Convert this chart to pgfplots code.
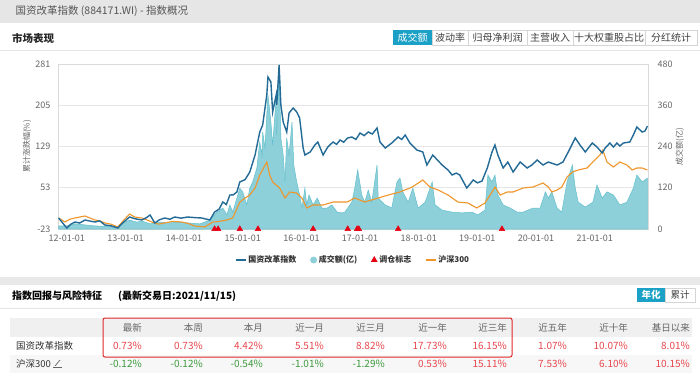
\documentclass[border=0pt]{standalone}
\usepackage{fontspec}
\setmainfont{Noto Sans CJK SC}
\usepackage{pgfplots}
\usepackage{pgfplotstable}
\pgfplotsset{compat=1.18}
\definecolor{hdrbg}{HTML}{E6E6E6}
\definecolor{gapbg}{HTML}{E9E9E9}
\definecolor{txtgray}{HTML}{555555}
\definecolor{tickgray}{HTML}{666666}
\definecolor{gridc}{HTML}{E6E6E6}
\definecolor{framec}{HTML}{DADADA}
\definecolor{tabteal}{HTML}{1BA1C6}
\definecolor{tabborder}{HTML}{D5D5D5}
\definecolor{blueline}{HTML}{236A96}
\definecolor{orangeline}{HTML}{F0952A}
\definecolor{volfill}{HTML}{8DD0DA}
\definecolor{voldraw}{HTML}{62BFCC}
\definecolor{mkred}{HTML}{E60012}
\definecolor{valred}{HTML}{E8464C}
\definecolor{valgreen}{HTML}{3E9B3E}
\definecolor{rowbg}{HTML}{F0F0F0}
\definecolor{rowbgb}{HTML}{F7F7F7}
\definecolor{boxred}{HTML}{E0282A}
\newcommand\fs[1]{\fontsize{#1}{#1}\selectfont}
\pgfplotsset{shortline/.style={legend image code/.code={\draw[##1] (0pt,0pt) -- (10pt,0pt);}}}

\pgfplotstableread{
x y
2011.86 -2.7
2012.00 -21.2
2012.07 -14.0
2012.14 -10.1
2012.22 -12.0
2012.31 -6.4
2012.40 -8.5
2012.48 -10.1
2012.56 -8.0
2012.65 -15.6
2012.75 -17.0
2012.87 -21.2
2012.95 -12.0
2013.07 -0.9
2013.16 -4.0
2013.28 -6.4
2013.36 -2.0
2013.42 2.8
2013.50 -11.9
2013.58 -6.0
2013.67 -2.7
2013.76 -5.0
2013.84 -0.9
2013.95 -3.0
2014.06 -0.9
2014.18 -2.0
2014.30 -2.7
2014.44 -6.4
2014.52 8.3
2014.60 14.0
2014.66 26.7
2014.72 22.0
2014.78 39.6
2014.84 40.0
2014.90 45.2
2014.95 63.6
2015.04 68.0
2015.12 82.0
2015.21 113.3
2015.29 155.7
2015.34 168.6
2015.41 223.9
2015.43 257.0
2015.48 247.8
2015.51 192.6
2015.57 223.9
2015.58 205.5
2015.62 279.2
2015.65 205.5
2015.69 174.1
2015.75 155.7
2015.79 190.7
2015.86 199.9
2015.92 192.6
2015.97 181.5
2016.03 126.2
2016.06 113.3
2016.15 118.9
2016.23 131.8
2016.28 137.3
2016.37 113.3
2016.45 128.1
2016.54 137.3
2016.60 133.0
2016.66 141.0
2016.72 137.0
2016.79 144.7
2016.86 146.5
2016.93 142.0
2017.00 153.9
2017.07 149.0
2017.14 155.7
2017.21 152.0
2017.29 163.1
2017.34 137.3
2017.43 126.2
2017.54 135.4
2017.65 146.5
2017.71 142.0
2017.77 150.2
2017.85 135.4
2017.97 122.5
2018.07 118.9
2018.14 94.9
2018.24 113.3
2018.32 104.0
2018.40 94.9
2018.50 85.7
2018.57 76.5
2018.64 80.0
2018.70 76.5
2018.82 52.5
2018.93 67.3
2019.00 62.0
2019.08 65.4
2019.17 89.4
2019.25 118.9
2019.30 131.8
2019.35 113.3
2019.44 89.4
2019.52 100.4
2019.61 82.0
2019.73 100.4
2019.85 89.4
2019.93 95.0
2020.02 104.1
2020.12 94.9
2020.21 100.4
2020.36 94.9
2020.46 100.4
2020.55 118.9
2020.67 144.7
2020.75 131.8
2020.84 118.9
2020.96 135.4
2021.04 128.1
2021.13 117.0
2021.18 126.2
2021.26 135.4
2021.32 128.0
2021.38 135.4
2021.43 130.0
2021.49 135.4
2021.60 137.3
2021.66 150.2
2021.72 164.9
2021.81 155.7
2021.86 157.6
2021.90 166.8
}\gzdata

\pgfplotstableread{
x y
2011.86 -2.7
2011.97 -10.1
2012.05 -5.0
2012.14 -2.7
2012.22 -1.0
2012.31 1.0
2012.40 -3.0
2012.48 -6.4
2012.56 -8.0
2012.65 -11.9
2012.75 -14.0
2012.87 -19.3
2012.96 -8.0
2013.07 4.6
2013.16 -1.0
2013.28 -2.7
2013.36 -6.0
2013.45 -10.1
2013.56 -14.0
2013.67 -11.9
2013.80 -9.0
2013.96 -10.1
2014.08 -13.0
2014.18 -17.5
2014.35 -19.3
2014.49 -10.1
2014.60 -9.0
2014.73 -6.4
2014.83 -2.7
2014.95 26.7
2015.04 34.1
2015.12 39.6
2015.21 52.5
2015.29 76.5
2015.41 100.4
2015.46 76.5
2015.51 63.6
2015.63 52.5
2015.72 34.1
2015.80 45.2
2015.92 43.3
2016.01 34.1
2016.09 15.7
2016.20 21.2
2016.37 21.2
2016.54 26.7
2016.78 26.7
2016.91 34.1
2017.08 26.7
2017.31 34.1
2017.48 39.6
2017.68 45.2
2017.89 54.4
2018.07 67.3
2018.19 54.4
2018.33 48.9
2018.50 39.6
2018.67 26.7
2018.84 24.9
2018.99 15.7
2019.13 24.9
2019.25 45.2
2019.30 54.4
2019.39 39.6
2019.51 45.2
2019.61 45.2
2019.78 52.5
2019.95 54.4
2020.12 61.8
2020.21 54.4
2020.27 45.2
2020.36 48.9
2020.44 54.4
2020.53 72.8
2020.62 82.0
2020.72 85.7
2020.87 89.4
2020.97 100.4
2021.09 113.3
2021.14 122.5
2021.21 100.4
2021.32 91.2
2021.43 100.4
2021.55 94.9
2021.64 85.7
2021.72 89.4
2021.81 89.4
2021.90 85.7
}\hsdata

\pgfplotstableread{
x y
2011.86 9
2012.00 9
2012.14 15
2012.31 12
2012.48 9
2012.65 8
2012.87 8
2012.99 20
2013.07 26
2013.19 20
2013.28 23
2013.42 15
2013.59 20
2013.76 18
2013.93 20
2014.10 17
2014.27 15
2014.35 20
2014.44 26
2014.56 49
2014.66 61
2014.73 41
2014.78 70
2014.83 49
2014.90 90
2014.95 119
2015.00 108
2015.07 70
2015.12 119
2015.17 137
2015.24 177
2015.29 253
2015.33 215
2015.34 282
2015.38 236
2015.41 332
2015.43 390
2015.48 311
2015.51 244
2015.57 381
2015.58 273
2015.62 474
2015.65 265
2015.69 215
2015.72 137
2015.75 265
2015.79 215
2015.84 311
2015.87 186
2015.92 137
2015.97 99
2016.01 61
2016.06 119
2016.09 70
2016.13 99
2016.20 70
2016.27 90
2016.35 61
2016.44 61
2016.52 70
2016.61 49
2016.69 47
2016.74 49
2016.86 78
2016.91 119
2016.96 172
2017.03 99
2017.08 78
2017.14 113
2017.20 78
2017.29 186
2017.31 90
2017.43 70
2017.54 61
2017.63 137
2017.68 148
2017.73 108
2017.82 78
2017.90 119
2017.99 61
2018.11 78
2018.23 137
2018.28 70
2018.40 55
2018.57 49
2018.74 47
2018.91 49
2019.01 41
2019.13 55
2019.18 157
2019.25 137
2019.30 157
2019.35 99
2019.44 70
2019.56 61
2019.68 49
2019.78 49
2019.95 61
2020.07 61
2020.16 108
2020.21 90
2020.27 108
2020.36 61
2020.44 49
2020.53 137
2020.62 186
2020.67 119
2020.72 78
2020.84 64
2020.97 78
2021.04 128
2021.13 90
2021.21 108
2021.32 99
2021.43 70
2021.55 78
2021.66 119
2021.72 157
2021.81 137
2021.90 148
}\voldata

\begin{document}
\begin{tikzpicture}[x=1pt,y=1pt]
\path[use as bounding box] (0,0) rectangle (700,376);
\fill[gapbg] (0,0) rectangle (700,376);
\fill[hdrbg] (0,353) rectangle (700,376);
\node[anchor=west, text=txtgray, font=\fs{10.5}] at (12,364.5) {国资改革指数 (884171.WI) - 指数概况};
\fill[white] (0,99) rectangle (700,353);
\fill[white] (0,0) rectangle (700,91);
\node[anchor=west, font=\fs{10.5}\bfseries, text=black!85, inner sep=0pt] at (12,338) {市场表现};
\draw[hdrbg] (0,326) -- (700,326);
% tabs
\fill[tabteal] (393,331) rectangle (432,346);
\node[font=\fs{10}, text=white] at (412.5,338.5) {成交额};
\foreach \a/\b/\t in {432/468/波动率, 468/527/归母净利润, 527/573/主营收入, 573/645/十大权重股占比, 645/697/分红统计}{
  \draw[tabborder] (\a,331) rectangle (\b,346);
  \node[font=\fs{10}, text=black!75] at ({(\a+\b)/2},338.5) {\t};
}

% ---------- chart ----------
\begin{axis}[
  at={(58pt,147pt)}, anchor=south west, scale only axis,
  width=590pt, height=165pt,
  xmin=2011.85, xmax=2021.91, ymin=0, ymax=480,
  xtick=\empty, ytick={0,120,240,360,480},
  yticklabel pos=right,
  ymajorgrids, grid style={gridc, line width=0.6pt},
  axis line style={framec, line width=0.6pt},
  major tick length=0pt,
  yticklabel style={font=\fs{9}, text=tickgray, xshift=6pt},
  /pgf/number format/assume math mode=true,
  every axis y label/.style={at={(axis description cs:1.054,0.5)}, rotate=90, anchor=center, font=\fs{8}, text=tickgray},
  ylabel={成交额(亿)},
]
\addplot[fill=volfill, draw=voldraw, line width=0.5pt] table[x=x,y=y]{\voldata} \closedcycle;
\end{axis}

\begin{axis}[
  at={(58pt,147pt)}, anchor=south west, scale only axis,
  width=590pt, height=165pt,
  xmin=2011.85, xmax=2021.91, ymin=-23, ymax=281,
  ytick={-23,53,129,205,281},
  xtick={2012,2013,2014,2015,2016,2017,2018,2019,2020,2021},
  xticklabels={12-01-01,13-01-01,14-01-01,15-01-01,16-01-01,17-01-01,18-01-01,19-01-01,20-01-01,21-01-01},
  axis line style={draw=none},
  major tick length=0pt,
  yticklabel style={font=\fs{9}, text=tickgray, xshift=-4pt},
  xticklabel style={font=\fs{9}, text=tickgray, yshift=-2pt},
  /pgf/number format/assume math mode=true,
  every axis y label/.style={at={(axis description cs:-0.0525,0.5)}, rotate=90, anchor=center, font=\fs{8}, text=tickgray},
  ylabel={累计涨跌幅(\%)},
  clip mode=individual,
  legend style={at={(0.5,-0.188)}, anchor=center, draw=none, fill=none,
    legend columns=4, font=\fs{8}\bfseries, text=black!80,
    /tikz/every even column/.append style={column sep=12pt}},
]
\addplot[orangeline, line width=1.1pt, forget plot] table[x=x,y=y]{\hsdata};
\addplot[blueline, line width=1.4pt, forget plot] table[x=x,y=y]{\gzdata};
\addplot[only marks, mark=triangle*, mark size=3.3pt, color=mkred, forget plot] coordinates {
(2014.52,-23) (2014.58,-23) (2014.95,-23) (2015.26,-23) (2016.20,-23)
(2016.79,-23) (2016.95,-23) (2016.98,-23) (2017.65,-23) (2019.42,-23)};
\addlegendimage{blueline, line width=1.5pt, shortline}
\addlegendentry{国资改革指数}
\addlegendimage{only marks, mark=*, mark size=3.2pt, color=volfill}
\addlegendentry{成交额(亿)}
\addlegendimage{only marks, mark=triangle*, mark size=3.5pt, color=mkred}
\addlegendentry{调仓标志}
\addlegendimage{orangeline, line width=1.2pt, shortline}
\addlegendentry{沪深300}
\end{axis}

% ---------- table ----------
\node[anchor=west, font=\fs{10}\bfseries, inner sep=0pt] at (12,80) {指数回报与风险特征};
\node[anchor=west, font=\fs{10}\bfseries, inner sep=0pt] at (118,80) {(最新交易日:2021/11/15)};
\draw[hdrbg] (0,68) -- (700,68);
\fill[tabteal] (637,74) rectangle (665,88);
\node[font=\fs{9.5}\bfseries, text=white] at (651,81) {年化};
\draw[tabborder] (665,74) rectangle (695,88);
\node[font=\fs{9.5}, text=black!75] at (680,81) {累计};
\fill[rowbg] (10,39) rectangle (692,58);
\fill[rowbgb] (10,3) rectangle (692,21);
\foreach \xr/\t in {142/最新, 203/本周, 263/本月, 324/近一月, 385/近三月, 447/近一年, 507/近三年, 567/近五年, 628/近十年, 690/基日以来}{
  \node[anchor=east, inner sep=0pt, font=\fs{9.5}, text=tickgray] at (\xr,48) {\t};
}
\node[anchor=west, inner sep=0pt, font=\fs{9.5}, text=black!80] at (16,30) {国资改革指数};
\node[anchor=west, inner sep=0pt, font=\fs{9.5}, text=black!80] at (16,12.5) {沪深300};
\draw[black!60, line width=0.7pt] (55,10) -- (60,16);
\draw[black!60, line width=0.5pt] (53,8.5) -- (62,8.5);
\foreach \xr/\v in {142/0.73, 203/0.73, 263/4.42, 324/5.51, 385/8.82, 447/17.73, 507/16.15, 567/1.07, 628/10.07, 690/8.01}{
  \node[anchor=east, inner sep=0pt, font=\fs{10}, text=valred] at (\xr,30) {\v\%};
}
\foreach \xr/\v/\c in {142/-0.12/valgreen, 203/-0.12/valgreen, 263/-0.54/valgreen, 324/-1.01/valgreen, 385/-1.29/valgreen, 447/0.53/valred, 507/15.11/valred, 567/7.53/valred, 628/6.10/valred, 690/10.15/valred}{
  \node[anchor=east, inner sep=0pt, font=\fs{10}, text=\c] at (\xr,12.5) {\v\%};
}
\draw[boxred, line width=1pt, rounded corners=2pt] (103,19) rectangle (512,58);
\end{tikzpicture}
\end{document}
